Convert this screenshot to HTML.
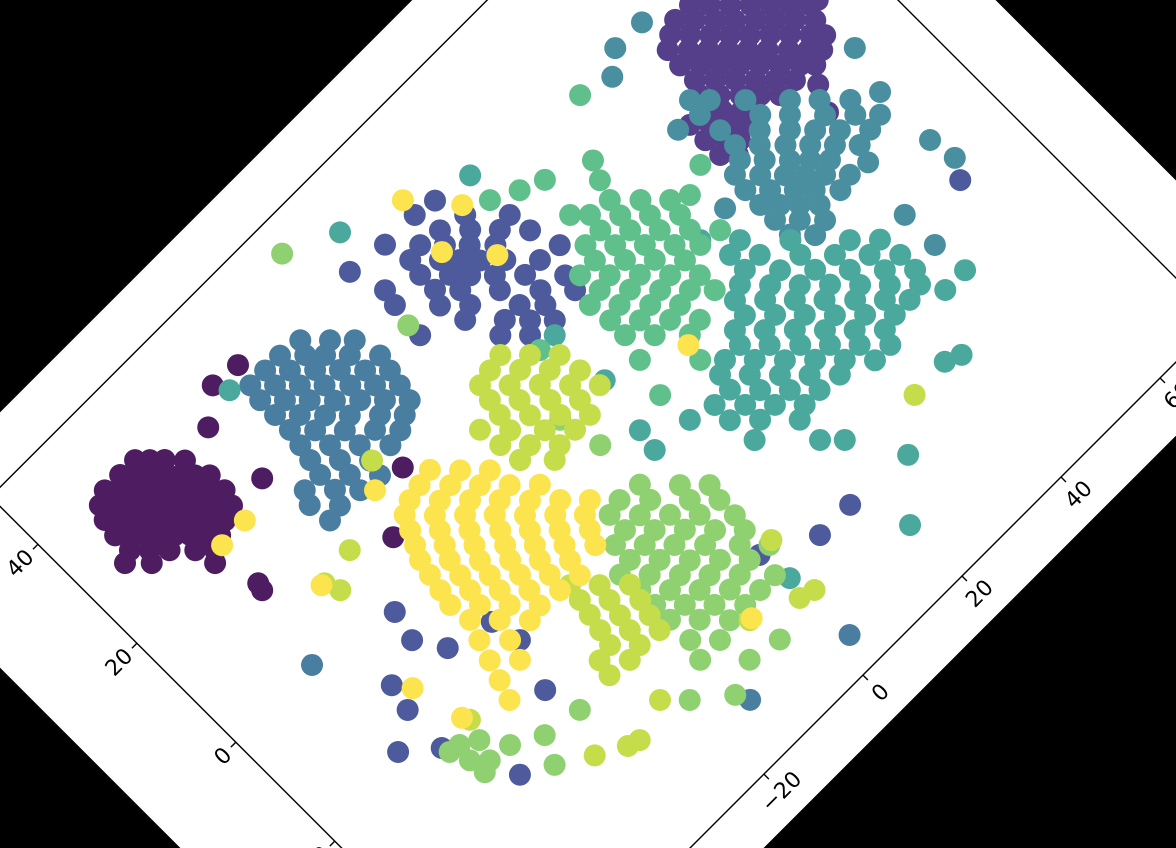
<!DOCTYPE html>
<html><head><meta charset="utf-8"><style>
html,body{margin:0;padding:0;background:#000;width:1176px;height:848px;overflow:hidden;}
svg{display:block;overflow:hidden;}
text{font-family:"DejaVu Sans","Liberation Sans",sans-serif;font-size:22px;fill:#000;}
</style></head><body>
<svg id="chart" width="1176" height="848" viewBox="0 0 1176 848" xmlns="http://www.w3.org/2000/svg">
<rect x="0" y="0" width="1176" height="848" fill="#000"/>
<g id="fig" transform="translate(583,395) rotate(-45)">
<rect x="-605" y="-400" width="1176" height="848" fill="#fff"/>
<defs><clipPath id="axclip"><rect x="-491" y="-347" width="993" height="743"/></clipPath></defs>
<g id="points" clip-path="url(#axclip)"></g>
<rect x="-491" y="-347" width="993" height="743" fill="none" stroke="#000" stroke-width="1.4"/>
<g id="ticks"></g>
</g>
</svg>
<script>
const xMin = -70.1, xMax = 71.7, yMin = -56.6, yMax = 49.6;
const xTicks = [-20, 0, 20, 40, 60];
const yTicks = [-20, 0, 20, 40];
const classColors = ["#4d1c61","#553f8a","#4d5a9c","#4a7ea0","#4a8f9f","#4aa99c","#60c08c","#8fd070","#c5dd4b","#fbe44e"];
const cls0 = [[-51.8,38.7],[-50.3,37.2],[-48.8,35.7],[-46.8,33.6],[-54.8,38.7],[-53.3,37.2],[-51.8,35.7],[-50.3,34.1],[-48.8,32.6],[-47.3,31.1],[-45.8,29.6],[-57.9,38.7],[-56.4,37.2],[-54.8,35.7],[-53.3,34.1],[-51.8,32.6],[-50.3,31.1],[-48.8,29.6],[-47.3,28.1],[-45.8,26.6],[-59.9,37.7],[-58.4,36.2],[-56.9,34.6],[-55.4,33.1],[-53.8,31.6],[-52.3,30.1],[-50.8,28.6],[-49.3,27.1],[-47.8,25.6],[-46.6,24.3],[-60.9,35.7],[-59.4,34.1],[-57.9,32.6],[-56.4,31.1],[-54.8,29.6],[-53.3,28.1],[-51.8,26.6],[-50.3,25.1],[-48.8,23.5],[-61.4,33.1],[-59.9,31.6],[-58.4,30.1],[-56.9,28.6],[-55.4,27.1],[-53.8,25.6],[-52.3,24.0],[-50.8,22.5],[-61.4,30.1],[-59.4,28.1],[-57.4,26.1],[-54.8,23.5],[-52.8,21.5],[-63.2,29.3],[-60.5,26.6],[-54.1,20.2],[-31.8,37.9],[-36.4,38.4],[-41.1,34.6],[-40.8,24.0],[-51.8,13.8],[-52.1,12.7],[-25.5,10.9],[-33.5,4.8]];
const cls1 = [[50.2,28.6],[52.2,26.6],[54.2,24.5],[56.3,22.5],[58.3,20.5],[60.3,18.5],[62.3,16.5],[47.2,28.6],[49.2,26.6],[51.2,24.5],[53.2,22.5],[55.3,20.5],[57.3,18.5],[59.3,16.5],[61.3,14.4],[45.2,27.6],[47.2,25.6],[49.2,23.5],[51.2,21.5],[53.2,19.5],[55.3,17.5],[57.3,15.5],[59.3,13.4],[60.8,11.9],[43.4,26.3],[45.5,24.2],[47.5,22.2],[49.5,20.2],[51.5,18.2],[53.5,16.2],[55.6,14.1],[57.6,12.1],[59.0,10.7],[43.1,23.5],[45.2,21.5],[47.2,19.5],[49.2,17.5],[51.2,15.5],[53.2,13.4],[55.3,11.4],[56.8,9.9],[43.1,20.5],[45.2,18.5],[47.2,16.5],[49.2,14.4],[51.2,12.4],[53.2,10.4],[42.1,18.5],[44.1,16.5],[46.2,14.4],[48.2,12.4],[50.2,10.4],[41.1,16.5],[42.8,14.7],[44.8,12.7],[38.1,16.5],[40.1,14.4],[42.1,12.4],[43.6,10.9],[38.1,13.4],[40.1,11.4],[41.6,9.9],[38.1,10.4],[39.9,8.6],[55.1,7.6],[53.3,3.8],[63.6,16.2]];
const cls2 = [[4.7,34.6],[1.2,35.2],[6.3,30.1],[10.8,25.6],[2.2,31.1],[5.3,28.1],[8.3,25.1],[11.3,22.0],[-4.8,35.2],[-1.3,31.6],[1.2,29.1],[3.7,26.6],[6.3,24.0],[12.8,17.5],[-3.8,31.1],[-0.8,28.1],[1.2,26.1],[3.2,24.0],[5.8,21.5],[9.3,18.0],[-4.3,28.6],[-1.3,25.6],[0.7,23.5],[3.2,21.0],[6.3,18.0],[10.3,13.9],[-9.4,30.6],[-4.3,25.6],[-1.8,23.0],[2.2,19.0],[6.3,14.9],[9.8,11.4],[-9.9,28.1],[-5.4,23.5],[-2.3,20.5],[2.7,15.5],[5.3,12.9],[-4.3,19.5],[-0.3,15.5],[2.2,12.9],[4.7,10.4],[-10.4,22.5],[-2.3,14.4],[0.7,11.4],[-11.1,36.0],[-40.9,-2.9],[-42.0,-7.5],[-39.2,-11.9],[-48.6,-10.0],[-49.5,-14.1],[-54.7,-17.4],[-49.9,-21.4],[-32.1,-13.7],[-31.1,-18.4],[-33.6,-26.0],[-44.7,-32.0],[15.9,-38.1],[1.7,-34.0],[9.8,-38.1],[59.8,-16.4]];
const cls3 = [[-23.0,34.1],[-20.0,31.1],[-17.5,28.6],[-26.6,34.6],[-24.0,32.1],[-22.0,30.1],[-19.5,27.6],[-16.5,24.5],[-29.6,34.6],[-27.1,32.1],[-24.5,29.6],[-22.0,27.1],[-19.5,24.5],[-17.0,22.0],[-32.6,34.6],[-30.1,32.1],[-27.6,29.6],[-25.1,27.1],[-22.5,24.5],[-20.0,22.0],[-17.5,19.5],[-33.1,32.1],[-30.6,29.6],[-28.1,27.1],[-25.6,24.5],[-23.0,22.0],[-20.5,19.5],[-18.0,17.0],[-33.1,29.1],[-30.6,26.6],[-28.1,24.0],[-25.6,21.5],[-22.5,18.5],[-20.0,16.0],[-33.1,26.1],[-30.6,23.5],[-27.6,20.5],[-24.5,17.5],[-22.0,14.9],[-33.6,23.5],[-30.6,20.5],[-27.6,17.5],[-24.5,14.4],[-34.1,21.0],[-31.1,18.0],[-28.1,14.9],[-34.6,18.5],[-31.6,15.5],[-28.6,12.4],[-37.7,18.5],[-34.6,15.5],[-32.1,12.9],[-38.7,16.5],[-35.7,13.4],[-38.2,12.9],[-54.6,0.1],[2.7,-51.2],[-13.9,-47.7]];
const cls4 = [[40.6,19.0],[42.6,17.0],[46.2,13.4],[50.7,8.9],[53.7,5.9],[56.8,2.8],[40.1,16.5],[46.2,10.4],[49.2,7.4],[52.7,3.8],[55.8,0.8],[58.3,-1.7],[40.6,12.9],[44.6,8.9],[47.7,5.9],[50.2,3.3],[52.7,0.8],[55.8,-2.2],[40.6,9.9],[43.1,7.4],[45.7,4.8],[48.2,2.3],[50.7,-0.2],[53.2,-2.7],[39.6,7.9],[42.1,5.4],[44.6,2.8],[46.7,0.8],[48.7,-1.2],[37.6,6.9],[40.1,4.3],[42.6,1.8],[44.6,-0.2],[46.7,-2.2],[49.2,-4.7],[37.1,4.3],[39.6,1.8],[42.1,-0.7],[44.1,-2.7],[46.7,-5.3],[37.1,1.3],[39.1,-0.7],[41.1,-2.7],[43.1,-4.7],[37.1,-1.7],[39.6,-4.2],[42.1,-6.8],[37.1,-4.7],[39.6,-7.3],[38.3,31.8],[43.6,31.7],[35.1,29.2],[36.4,17.2],[62.5,7.6],[60.6,0.6],[60.8,-9.3],[61.5,-13.6],[52.3,-5.3],[50.7,-14.3],[50.7,-20.4],[33.2,4.5]];
const cls5 = [[27.5,3.8],[31.5,-0.2],[36.6,-5.3],[42.6,-11.3],[45.7,-14.3],[29.0,-0.7],[32.0,-3.7],[36.1,-7.8],[39.6,-11.3],[43.1,-14.8],[46.2,-17.9],[29.0,-3.7],[32.5,-7.3],[36.1,-10.8],[39.6,-14.3],[43.1,-17.9],[46.2,-20.9],[27.0,-4.7],[30.0,-7.8],[33.0,-10.8],[36.1,-13.8],[39.1,-16.9],[42.1,-19.9],[45.2,-22.9],[24.9,-5.8],[28.0,-8.8],[31.0,-11.8],[34.0,-14.8],[37.1,-17.9],[40.1,-20.9],[42.6,-23.4],[24.4,-8.3],[27.5,-11.3],[30.5,-14.3],[33.5,-17.4],[36.6,-20.4],[39.6,-23.4],[21.9,-8.8],[24.9,-11.8],[28.0,-14.8],[31.0,-17.9],[34.0,-20.9],[37.1,-23.9],[20.9,-10.8],[23.9,-13.8],[27.0,-16.9],[30.0,-19.9],[33.0,-22.9],[36.1,-26.0],[17.9,-10.8],[20.9,-13.8],[23.9,-16.9],[27.0,-19.9],[30.0,-22.9],[33.0,-26.0],[15.9,-11.8],[18.9,-14.8],[21.9,-17.9],[24.9,-20.9],[28.0,-23.9],[15.4,-14.3],[18.4,-17.4],[21.4,-20.4],[24.4,-23.4],[12.3,-14.3],[15.4,-17.4],[18.4,-20.4],[21.4,-23.4],[12.3,-17.4],[15.4,-20.4],[19.4,-24.4],[12.8,-21.9],[19.4,-28.5],[21.9,-31.0],[39.9,-33.2],[42.3,-34.2],[47.2,-26.0],[51.2,-26.0],[26.8,-38.9],[19.9,-46.2],[2.4,-39.4],[8.3,-13.3],[2.2,-9.3],[3.7,-0.7],[3.2,8.9],[-8.1,41.0],[-35.2,36.2],[10.8,33.6],[1.7,-12.8]];
const cls6 = [[22.4,17.0],[25.5,13.9],[28.5,10.9],[18.9,17.5],[21.9,14.4],[24.9,11.4],[28.0,8.4],[18.4,14.9],[21.4,11.9],[24.4,8.9],[27.5,5.9],[15.4,14.9],[18.4,11.9],[21.4,8.9],[24.4,5.9],[27.0,3.3],[14.8,12.4],[17.9,9.4],[20.9,6.4],[23.9,3.3],[11.8,12.4],[14.8,9.4],[17.9,6.4],[20.9,3.3],[23.9,0.3],[12.3,8.9],[15.4,5.9],[18.4,2.8],[21.4,-0.2],[9.8,8.4],[12.8,5.4],[15.9,2.3],[18.9,-0.7],[10.3,4.8],[13.3,1.8],[16.4,-1.2],[19.4,-4.2],[10.3,1.8],[13.3,-1.2],[16.9,-4.7],[17.9,25.6],[16.9,19.5],[23.4,20.0],[30.0,30.6],[24.7,22.7],[14.3,27.1],[10.3,29.1],[35.1,11.4],[31.0,9.4],[30.5,2.8],[23.9,-2.7],[0.2,8.9],[9.3,-2.2],[15.4,-8.3],[7.8,-7.8]];
const cls7 = [[-3.3,-14.8],[0.7,-18.9],[3.7,-21.9],[-6.9,-14.3],[-3.8,-17.4],[0.2,-21.4],[3.2,-24.4],[-9.4,-14.8],[-6.4,-17.9],[-3.3,-20.9],[-0.3,-23.9],[3.2,-27.5],[-9.4,-17.9],[-6.4,-20.9],[-3.3,-23.9],[-0.3,-27.0],[2.7,-30.0],[-11.9,-18.4],[-8.9,-21.4],[-5.9,-24.4],[-2.8,-27.5],[0.7,-31.0],[3.7,-34.0],[-11.9,-21.4],[-8.9,-24.4],[-5.9,-27.5],[-2.8,-30.5],[0.2,-33.5],[-14.4,-21.9],[-11.4,-24.9],[-8.4,-28.0],[-5.4,-31.0],[-2.3,-34.0],[1.2,-37.6],[-13.9,-25.5],[-10.9,-28.5],[-7.9,-31.5],[-4.8,-34.5],[-1.8,-37.6],[-13.9,-28.5],[-10.9,-31.5],[-7.9,-34.5],[-4.8,-37.6],[-13.9,-31.5],[-10.9,-34.5],[-7.9,-37.6],[-13.9,-35.6],[-10.9,-38.6],[-4.8,-44.6],[-14.9,-38.6],[-9.9,-43.6],[-47.8,-22.9],[-45.3,-24.4],[-46.3,-27.5],[-48.3,-25.5],[-48.0,-28.2],[-42.7,-28.0],[-49.5,-22.6],[-16.1,44.7],[-10.6,24.7],[-4.8,-0.2],[-3.3,-6.8],[-12.9,-0.2],[-20.0,-41.6],[-14.9,-45.7],[-32.1,-31.5],[-38.2,-30.5],[-40.2,-34.5]];
const cls8 = [[-4.3,12.4],[-1.3,9.4],[1.7,6.4],[-6.9,11.9],[-3.8,8.9],[-0.8,5.9],[2.2,2.8],[-9.4,11.4],[-6.4,8.4],[-3.3,5.4],[-0.3,2.3],[2.7,-0.7],[-9.9,8.9],[-6.9,5.9],[-3.8,2.8],[-0.8,-0.2],[-10.4,6.4],[-7.4,3.3],[-4.3,0.3],[-1.3,-2.7],[-13.9,6.9],[-10.9,3.8],[-7.4,0.3],[-4.3,-2.7],[-13.4,3.3],[-10.4,0.3],[-7.4,-2.7],[-12.9,-0.2],[-9.4,-3.7],[-20.5,-17.9],[-17.5,-20.9],[-14.4,-23.9],[-21.0,-20.4],[-18.0,-23.4],[-14.9,-26.5],[-21.5,-22.9],[-18.5,-26.0],[-15.5,-29.0],[-22.0,-25.5],[-19.0,-28.5],[-16.0,-31.5],[-22.5,-28.0],[-19.5,-31.0],[-25.1,-28.5],[-22.0,-31.5],[-25.6,-31.0],[-29.1,-40.6],[-30.9,-40.0],[-35.2,-37.6],[-44.2,-21.4],[1.4,-42.4],[3.7,-43.1],[-44.2,4.8],[-39.2,7.9],[-45.1,7.1],[-23.0,-38.6],[-5.9,-39.6],[4.4,-33.7],[33.5,-33.5],[-27.9,14.7]];
const cls9 = [[-23.0,7.9],[-20.0,4.8],[-17.0,1.8],[-25.6,7.4],[-22.5,4.3],[-19.5,1.3],[-16.5,-1.7],[-13.4,-4.7],[-28.1,6.9],[-25.1,3.8],[-22.0,0.8],[-19.0,-2.2],[-16.0,-5.3],[-12.9,-8.3],[-9.9,-11.3],[-30.1,5.9],[-27.1,2.8],[-24.0,-0.2],[-21.0,-3.2],[-18.0,-6.3],[-14.9,-9.3],[-11.9,-12.3],[-31.1,3.8],[-28.1,0.8],[-25.1,-2.2],[-22.0,-5.3],[-19.0,-8.3],[-16.0,-11.3],[-12.9,-14.3],[-32.1,1.8],[-29.1,-1.2],[-26.1,-4.2],[-23.0,-7.3],[-20.0,-10.3],[-17.0,-13.3],[-13.9,-16.4],[-33.1,-0.2],[-30.1,-3.2],[-27.1,-6.3],[-24.0,-9.3],[-21.0,-12.3],[-18.0,-15.4],[-33.6,-2.7],[-30.6,-5.8],[-27.6,-8.8],[-24.5,-11.8],[-21.5,-14.8],[-18.5,-17.9],[-34.1,-5.3],[-31.1,-8.3],[-28.1,-11.3],[-25.1,-14.3],[-22.0,-17.4],[-34.6,-7.8],[-31.6,-10.8],[-28.6,-13.8],[-25.6,-16.9],[-34.1,-11.3],[-31.1,-14.3],[-28.1,-17.4],[-35.2,-14.3],[-32.1,-17.4],[-36.2,-17.4],[-33.1,-20.4],[-37.2,-20.4],[-38.2,-23.4],[0.2,28.7],[7.0,31.4],[1.5,37.9],[5.5,22.8],[-30.6,11.4],[-46.8,21.5],[-51.6,21.3],[-45.6,7.2],[-46.8,-12.4],[-44.8,-20.4],[-5.5,-39.6],[15.7,-5.6]];
const classes = [cls0, cls1, cls2, cls3, cls4, cls5, cls6, cls7, cls8, cls9];

const NS = "http://www.w3.org/2000/svg";
const X0 = -491, X1 = 502, Y0 = -347, Y1 = 396;
function sx(v){ return X0 + (v - xMin) / (xMax - xMin) * (X1 - X0); }
function sy(v){ return Y1 - (v - yMin) / (yMax - yMin) * (Y1 - Y0); }

const pg = document.getElementById('points');
classes.forEach(function(pts, ci){
  pts.forEach(function(p){
    const c = document.createElementNS(NS, 'circle');
    c.setAttribute('cx', sx(p[0]).toFixed(1));
    c.setAttribute('cy', sy(p[1]).toFixed(1));
    c.setAttribute('r', 11);
    c.setAttribute('fill', classColors[ci]);
    
    
    pg.appendChild(c);
  });
});

const tg = document.getElementById('ticks');
xTicks.forEach(function(t){
  const x = sx(t);
  const l = document.createElementNS(NS, 'line');
  l.setAttribute('x1', x); l.setAttribute('x2', x);
  l.setAttribute('y1', Y1); l.setAttribute('y2', Y1 + 7);
  l.setAttribute('stroke', '#000'); l.setAttribute('stroke-width', '1.4');
  
  
  tg.appendChild(l);
  const tx = document.createElementNS(NS, 'text');
  tx.setAttribute('x', x); tx.setAttribute('y', Y1 + 32);
  tx.setAttribute('text-anchor', 'middle');
  tx.textContent = t < 0 ? '\u2212' + Math.abs(t) : String(t);
  
  
  tg.appendChild(tx);
});
yTicks.forEach(function(t){
  const y = sy(t);
  const l = document.createElementNS(NS, 'line');
  l.setAttribute('x1', X0 - 7); l.setAttribute('x2', X0);
  l.setAttribute('y1', y); l.setAttribute('y2', y);
  l.setAttribute('stroke', '#000'); l.setAttribute('stroke-width', '1.4');
  
  
  tg.appendChild(l);
  const tx = document.createElementNS(NS, 'text');
  tx.setAttribute('x', X0 - 12); tx.setAttribute('y', y + 8);
  tx.setAttribute('text-anchor', 'end');
  tx.textContent = t < 0 ? '\u2212' + Math.abs(t) : String(t);
  
  
  tg.appendChild(tx);
});
</script>
</body></html>
